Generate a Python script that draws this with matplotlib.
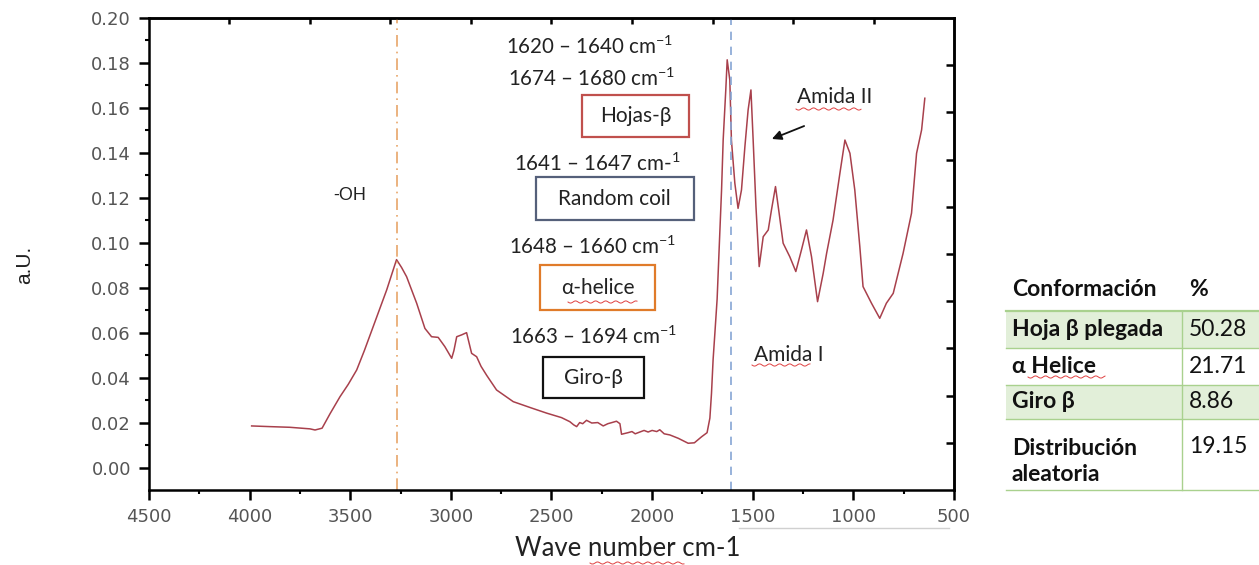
import matplotlib
matplotlib.use("Agg")
import matplotlib.pyplot as plt
from matplotlib.patches import Rectangle, FancyArrowPatch
from matplotlib.lines import Line2D
import numpy as np

# Espectro FTIR
wavenumber = [3990, 3900, 3800, 3700, 3675, 3640, 3600, 3551, 3510, 3468, 3430, 3386, 3319, 3290,
              3270, 3245, 3220, 3170, 3129, 3096, 3063, 3030, 2996, 2985, 2971, 2947,
              2922, 2897, 2872, 2850, 2822, 2773, 2690, 2600, 2524, 2450, 2409, 2390,
              2375, 2360, 2345, 2326, 2300, 2270, 2243, 2220, 2200, 2177, 2160, 2152,
              2120, 2100, 2084, 2061, 2040, 2020, 2000, 1977, 1962, 1940, 1912, 1870,
              1821, 1790, 1754, 1727, 1713, 1705, 1697, 1688, 1677, 1668, 1655, 1647,
              1634, 1627, 1614, 1606, 1589, 1573, 1556, 1539, 1523, 1509, 1498, 1484,
              1468, 1448, 1423, 1407, 1387, 1369, 1349, 1316, 1286, 1258, 1233, 1208,
              1178, 1150, 1133, 1101, 1067, 1042, 1017, 993, 968, 952, 910, 869,
              836, 802, 753, 711, 686, 661, 645]
absorbance = [0.0185, 0.0182, 0.0179, 0.0172, 0.0167, 0.0175, 0.0240, 0.0315, 0.0370, 0.0434, 0.0520, 0.0627, 0.0790, 0.0870,
              0.0925, 0.0890, 0.0849, 0.0731, 0.0619, 0.0582, 0.0579, 0.0538, 0.0486, 0.0520, 0.0582, 0.0590,
              0.0600, 0.0508, 0.0493, 0.0450, 0.0410, 0.0345, 0.0293, 0.0265, 0.0242, 0.0222, 0.0204, 0.0190,
              0.0182, 0.0200, 0.0195, 0.0210, 0.0198, 0.0200, 0.0185, 0.0195, 0.0200, 0.0206, 0.0195, 0.0148,
              0.0155, 0.0160, 0.0150, 0.0158, 0.0165, 0.0158, 0.0165, 0.0160, 0.0168, 0.0150, 0.0145, 0.0130,
              0.0108, 0.0110, 0.0137, 0.0155, 0.0220, 0.0330, 0.0480, 0.0600, 0.0750, 0.0950, 0.1235, 0.1457,
              0.1680, 0.1814, 0.1724, 0.1457, 0.1265, 0.1153, 0.1235, 0.1428, 0.1591, 0.1680, 0.1457, 0.1160,
              0.0894, 0.1027, 0.1057, 0.1146, 0.1250, 0.1132, 0.0998, 0.0938, 0.0872, 0.0968, 0.1057, 0.0938,
              0.0738, 0.0864, 0.0953, 0.1101, 0.1309, 0.1457, 0.1398, 0.1235, 0.0983, 0.0805, 0.0731, 0.0664,
              0.0731, 0.0775, 0.0953, 0.1132, 0.1398, 0.1502, 0.1643]

oh_line = 3267
amide_line = 1608

x_ticks = [4500, 4000, 3500, 3000, 2500, 2000, 1500, 1000, 500]
y_ticks = [0.00, 0.02, 0.04, 0.06, 0.08, 0.10, 0.12, 0.14, 0.16, 0.18, 0.20]
top_ticks = [4100, 3700, 3300, 2900, 2500, 2100, 1700, 1300, 900]
right_ticks = [0.011, 0.032, 0.053, 0.074, 0.095, 0.116, 0.137, 0.158, 0.179]

rangos = ["1620 – 1640 cm$^{\\mathregular{-1}}$", "1674 – 1680 cm$^{\\mathregular{-1}}$",
          "1641 – 1647 cm-$^{\\mathregular{1}}$", "1648 – 1660 cm$^{\\mathregular{-1}}$",
          "1663 – 1694 cm$^{\\mathregular{-1}}$"]
estructuras = ["Hojas-β", "Random coil", "α-helice", "Giro-β"]

conformacion = ["Hoja β plegada", "α Helice", "Giro β", "Distribución\naleatoria"]
porcentaje = ["50.28", "21.71", "8.86", "19.15"]

plt.rcParams['mathtext.fontset'] = 'custom'
plt.rcParams['mathtext.rm'] = 'Lato'
LATO = ['Lato', 'DejaVu Sans']

W, H = 1259, 565
fig = plt.figure(figsize=(W / 100, H / 100), dpi=100)


def fx(px):
    return px / W


def fy(py):
    return 1 - py / H


ax = fig.add_axes([fx(149), fy(490), (954 - 149) / W, (490 - 18) / H])
ax.plot(wavenumber, absorbance, color="#a8404c", lw=1.1)
ax.axvline(oh_line, color="#e8a66a", lw=1.2, ls=(0, (7, 3, 1, 3)))
ax.axvline(amide_line, color="#86a6d4", lw=1.2, ls=(0, (5, 4)))
ax.set_xlim(4500, 500)
ax.set_ylim(-0.01, 0.20)

ax.set_xticks(x_ticks)
ax.set_xticklabels([str(t) for t in x_ticks])
ax.set_xticks(np.array(x_ticks[:-1]) - 250, minor=True)
ax.set_yticks(y_ticks)
ax.set_yticklabels([f"{t:.2f}" for t in y_ticks])
ax.set_yticks(np.array(y_ticks[:-1]) + 0.01, minor=True)
ax.tick_params(which='major', direction='out', length=7, width=1.8,
               labelsize=13, labelcolor='#555555', pad=6)
ax.tick_params(which='minor', direction='out', length=3, width=1.5)
for s in ax.spines.values():
    s.set_linewidth(1.8)

top = ax.secondary_xaxis('top')
top.set_xticks(top_ticks)
top.tick_params(direction='in', length=4, width=1.8, labeltop=False)
top.spines['top'].set_linewidth(1.8)
right = ax.secondary_yaxis('right')
right.set_yticks(right_ticks)
right.tick_params(direction='in', length=6, width=1.8, labelright=False)
right.spines['right'].set_linewidth(1.8)

# Etiquetas de ejes
fig.text(fx(25), fy(265), "a.U.", rotation=90, ha='center', va='center',
         fontsize=15, family='Liberation Sans', color='#222222')
fig.text(fx(628), fy(548), "Wave number cm-1", ha='center', va='center',
         fontsize=18.5, family=LATO, color='#222222')

# Anotaciones
fig.text(fx(350), fy(195), "-OH", ha='center', va='center', fontsize=13,
         family='Liberation Sans', color='#222222')
rango_pos = [(590, 46.7), (591.7, 78.3), (597.7, 163.3), (592.3, 246.7), (594, 336.7)]
for (px, py), txt in zip(rango_pos, rangos):
    fig.text(fx(px), fy(py), txt, ha='center', va='center', fontsize=14.8,
             family=LATO, color='#222222')

cajas = [(581.7, 95, 689.3, 136.7, '#c0504d'),
         (535.6, 177.3, 693.5, 220, '#55607a'),
         (540, 265, 655, 310, '#e07b2a'),
         (543, 356.7, 644.3, 398.3, '#111111')]
for (x0, y0, x1, y1, c), txt in zip(cajas, estructuras):
    fig.patches.append(Rectangle((fx(x0), fy(y1)), fx(x1) - fx(x0), fy(y0) - fy(y1),
                                 transform=fig.transFigure, fc='white', ec=c, lw=1.6))
    fig.text(fx((x0 + x1) / 2), fy((y0 + y1) / 2), txt, ha='center', va='center',
             fontsize=15, family=LATO, color='#222222')

fig.text(fx(835), fy(96.7), "Amida II", ha='center', va='center', fontsize=15,
         family=LATO, color='#222222')
fig.text(fx(788.3), fy(355), "Amida I", ha='center', va='center', fontsize=15,
         family=LATO, color='#222222')
fig.patches.append(FancyArrowPatch((fx(806.7), fy(125)), (fx(769.3), fy(140)),
                                   transform=fig.transFigure, arrowstyle='-|>',
                                   mutation_scale=14, color='#111111', lw=1.3))


def wavy(x0, x1, y):
    xs = np.linspace(x0, x1, 60)
    ys = y + 1.1 * np.sin((xs - x0) / 1.6)
    fig.lines.append(Line2D(fx(xs), fy(ys), transform=fig.transFigure,
                            color='#e04040', lw=0.7))


wavy(796, 861, 109)
wavy(568, 637, 302)
wavy(752, 810, 365)
wavy(590, 684, 563)
wavy(1028, 1105, 377)

fig.lines.append(Line2D([fx(739), fx(949)], [fy(528), fy(528)], transform=fig.transFigure,
                        color='#d0d0d0', lw=1))

# Tabla de conformaciones
GREEN = '#e2efd9'
LINE = '#a9d18e'
filas = [(310.7, 348.3), (348.3, 385), (385, 419), (419, 490)]
for i, (y0, y1) in enumerate(filas):
    if i % 2 == 0:
        fig.patches.append(Rectangle((fx(1006), fy(y1)), fx(1259) - fx(1006), fy(y0) - fy(y1),
                                     transform=fig.transFigure, fc=GREEN, ec='none'))
    fig.lines.append(Line2D([fx(1006), fx(1259)], [fy(y1), fy(y1)], transform=fig.transFigure,
                            color=LINE, lw=1))
fig.lines.append(Line2D([fx(1006), fx(1259)], [fy(310.7), fy(310.7)], transform=fig.transFigure,
                        color=LINE, lw=1.6))
fig.lines.append(Line2D([fx(1181.7), fx(1181.7)], [fy(310.7), fy(490)], transform=fig.transFigure,
                        color=LINE, lw=1))

TS = 16.5
fig.text(fx(1012), fy(290), "Conformación", ha='left', va='center', fontsize=TS,
         family=LATO, weight='bold', color='#111111')
fig.text(fx(1189), fy(290), "%", ha='left', va='center', fontsize=TS,
         family=LATO, weight='bold', color='#111111')
for (y0, y1), nom, val in zip(filas, conformacion, porcentaje):
    if "\n" in nom:
        fig.text(fx(1012), fy(461.7), nom, ha='left', va='center', fontsize=TS,
                 family=LATO, weight='bold', color='#111111', linespacing=1.3)
        fig.text(fx(1189), fy(446.7), val, ha='left', va='center', fontsize=TS,
                 family=LATO, color='#111111')
    else:
        fig.text(fx(1012), fy((y0 + y1) / 2), nom, ha='left', va='center', fontsize=TS,
                 family=LATO, weight='bold', color='#111111')
        fig.text(fx(1189), fy((y0 + y1) / 2), val, ha='left', va='center', fontsize=TS,
                 family=LATO, color='#111111')

fig.savefig("out.png", dpi=100)
